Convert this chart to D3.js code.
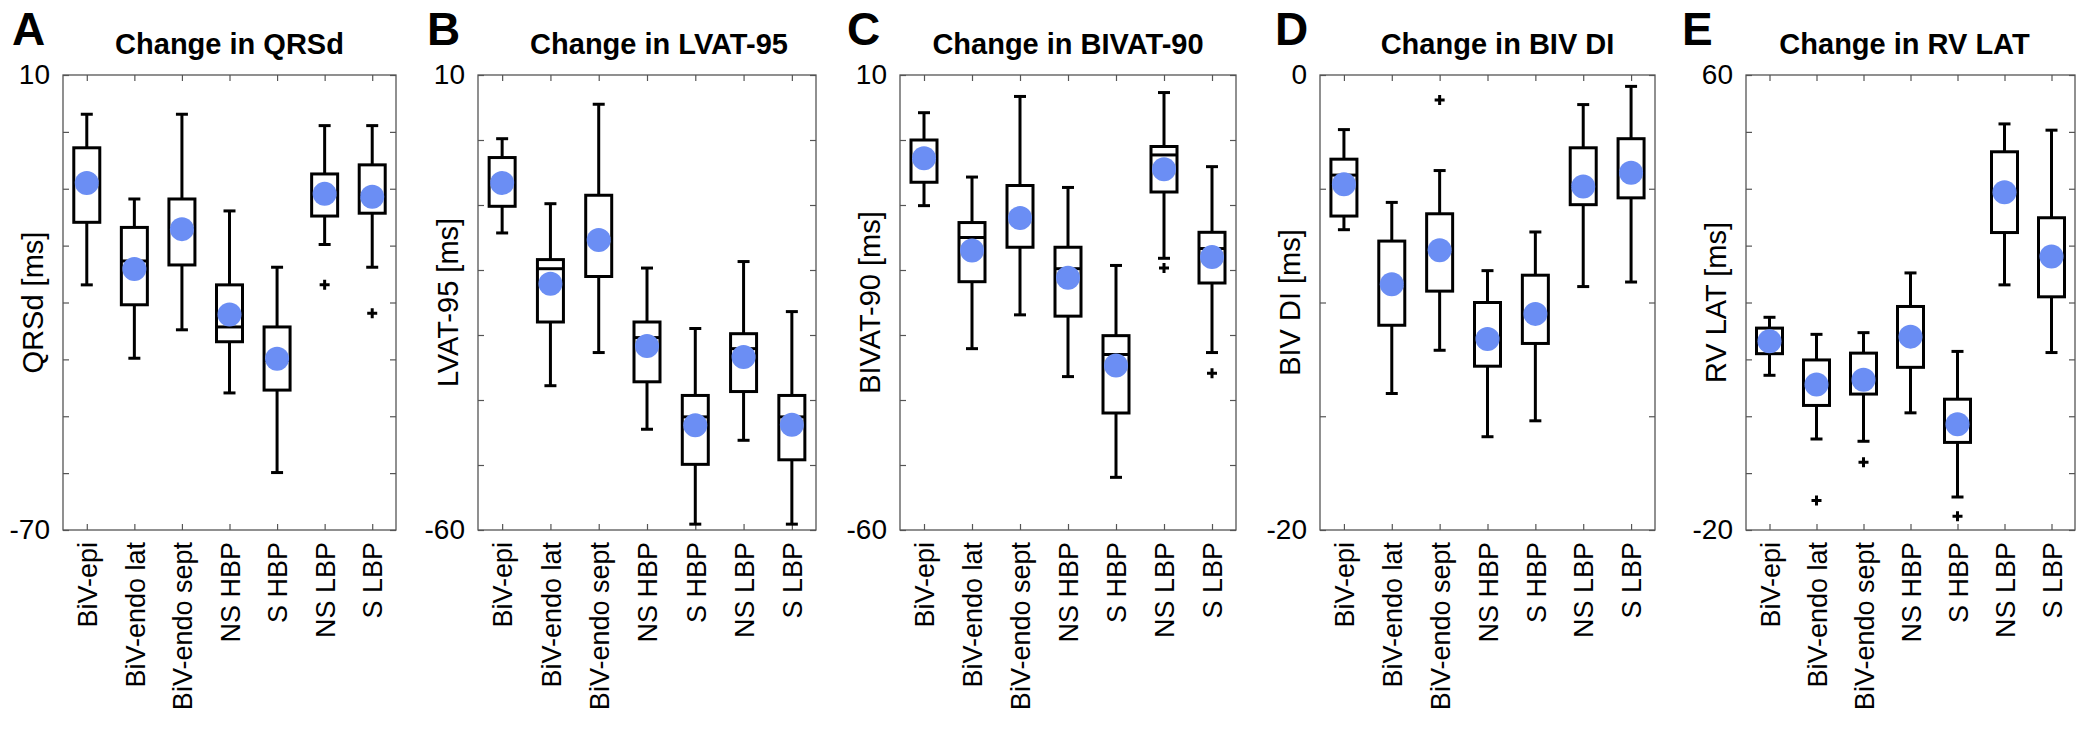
<!DOCTYPE html>
<html>
<head>
<meta charset="utf-8">
<script src="https://cdn.jsdelivr.net/npm/d3@7"></script>
<style>
    body { margin: 0; background: #fff; }
    svg { font-family: "Liberation Sans", Arial, Helvetica, sans-serif; }
</style>
</head>
<body>
<div id="chart"></div>
<script>
/*
five box plot panels, change in activation metrics per pacing site
 */

// categories (same for every panel)
var categories = ["BiV-epi", "BiV-endo lat", "BiV-endo sept", "NS HBP", "S HBP", "NS LBP", "S LBP"];

var panelLetters = ["A", "B", "C", "D", "E"];
var panelTitles = ["Change in QRSd", "Change in LVAT-95", "Change in BIVAT-90", "Change in BIV DI", "Change in RV LAT"];
var yLabels = ["QRSd [ms]", "LVAT-95 [ms]", "BIVAT-90 [ms]", "BIV DI [ms]", "RV LAT [ms]"];
var yMin = [-70, -60, -60, -20, -20];
var yMax = [10, 10, 10, 0, 60];
var yStep = [10, 10, 10, 5, 10];

// box plot statistics, one row per panel, one value per category
var whiskerHigh = [
    [3.1, -11.8, 3.1, -13.9, -23.8, 1.1, 1.1],
    [0.2, -9.8, 5.5, -19.7, -29.0, -18.7, -26.4],
    [4.2, -5.7, 6.7, -7.3, -19.3, 7.3, -4.1],
    [-2.4, -5.6, -4.2, -8.6, -6.9, -1.3, -0.5],
    [17.4, 14.4, 14.7, 25.2, 11.4, 51.4, 50.3]
];
var upperQuartile = [
    [-2.8, -16.8, -11.8, -26.9, -34.3, -7.4, -5.8],
    [-2.7, -18.4, -8.5, -28.0, -39.3, -29.8, -39.3],
    [0.0, -12.7, -7.0, -16.5, -30.1, -1.0, -14.2],
    [-3.7, -7.3, -6.1, -10.0, -8.8, -3.2, -2.8],
    [15.5, 9.9, 11.1, 19.3, 3.0, 46.5, 34.9]
];
var medians = [
    [-9.0, -22.7, -17.0, -34.3, -40.2, -10.8, -11.3],
    [-6.6, -19.8, -15.3, -30.4, -42.6, -32.1, -42.6],
    [-2.8, -15.0, -12.0, -19.8, -33.0, -2.3, -16.7],
    [-4.4, -9.2, -7.7, -11.6, -10.5, -4.9, -4.3],
    [13.2, 5.6, 6.4, 14.0, -1.4, 39.4, 28.1]
];
var means = [
    [-9.0, -24.1, -17.1, -32.1, -39.9, -10.9, -11.4],
    [-6.6, -22.1, -15.4, -31.7, -43.9, -33.4, -43.8],
    [-2.8, -17.0, -12.0, -21.2, -34.7, -4.5, -18.0],
    [-4.8, -9.2, -7.7, -11.6, -10.5, -4.9, -4.3],
    [13.2, 5.6, 6.4, 14.0, -1.4, 39.4, 28.1]
];
var lowerQuartile = [
    [-15.9, -30.4, -23.4, -36.9, -45.4, -14.8, -14.3],
    [-10.2, -28.0, -21.0, -37.2, -49.9, -38.7, -49.2],
    [-6.5, -21.8, -16.5, -27.1, -42.0, -8.0, -22.0],
    [-6.2, -11.0, -9.5, -12.8, -11.8, -5.7, -5.4],
    [11.0, 1.9, 3.9, 8.6, -4.6, 32.3, 21.0]
];
var whiskerLow = [
    [-26.9, -39.8, -34.8, -45.9, -59.9, -19.8, -23.8],
    [-14.3, -37.8, -32.7, -44.5, -59.1, -46.2, -59.1],
    [-10.1, -32.1, -26.9, -36.4, -51.9, -18.2, -32.7],
    [-6.8, -14.0, -12.1, -15.9, -15.2, -9.3, -9.1],
    [7.2, -4.0, -4.4, 0.6, -14.2, 23.1, 11.2]
];
// outliers per panel: [category index, value]
var outliers = [
    [[5, -26.9], [6, -31.9]],
    [],
    [[5, -19.7], [6, -35.9]],
    [[2, -1.1]],
    [[1, -14.8], [2, -8.1], [4, -17.6]]
];

// layout
var width = 2085;
var height = 730;
var frameLeft = [63, 478, 900, 1320, 1746];
var frameRight = [396, 816, 1236, 1655, 2075];
var frameTop = 75;
var frameBottom = 530;
var titleShift = [0, 12, 0, 10, -6];
var letterX = [12, 427, 847, 1275, 1682];
var boxWidth = 26;
var capWidth = 12;
var dotColor = "#6b8ef4";

var svg = d3.select("#chart")
    .append("svg")
    .attr("width", width)
    .attr("height", height);

// "+" marker used for outliers
var plusSymbol = {
    draw: function (ctx) {
        ctx.moveTo(-5, 0);
        ctx.lineTo(5, 0);
        ctx.moveTo(0, -5);
        ctx.lineTo(0, 5);
    }
};

function drawPanel(p) {
    var left = frameLeft[p];
    var right = frameRight[p];

    var x = d3.scalePoint()
        .domain(categories)
        .range([left, right])
        .padding(0.5);
    var y = d3.scaleLinear()
        .domain([yMin[p], yMax[p]])
        .range([frameBottom, frameTop]);

    var yTicks = d3.range(yMin[p], yMax[p] + yStep[p] / 2, yStep[p]);
    var g = svg.append("g");

    //axes with inward ticks, labels only at the ends
    var yAxis = d3.axisLeft(y)
        .tickValues(yTicks)
        .tickSizeInner(-6)
        .tickSizeOuter(0)
        .tickPadding(13)
        .tickFormat(function (d) {
            return (d === yMin[p] || d === yMax[p]) ? d : "";
        });
    var yAxisRight = d3.axisRight(y).tickValues(yTicks).tickSizeInner(-6).tickSizeOuter(0).tickFormat("");
    var xAxis = d3.axisBottom(x).tickSizeInner(-6).tickSizeOuter(0).tickPadding(12);
    var xAxisTop = d3.axisTop(x).tickSizeInner(-6).tickSizeOuter(0).tickFormat("");

    var ya = g.append("g").attr("transform", "translate(" + left + ",0)").call(yAxis);
    ya.selectAll("text").attr("font-size", "28px").attr("fill", "#000");
    g.append("g").attr("transform", "translate(" + right + ",0)").call(yAxisRight);

    var xa = g.append("g").attr("transform", "translate(0," + frameBottom + ")").call(xAxis);
    xa.selectAll("text")
        .attr("transform", "rotate(-90)")
        .attr("x", -12)
        .attr("y", 0)
        .attr("dy", "0.36em")
        .style("text-anchor", "end")
        .attr("font-size", "27px")
        .attr("fill", "#000");
    g.append("g").attr("transform", "translate(0," + frameTop + ")").call(xAxisTop);

    g.selectAll(".domain").remove();
    g.selectAll(".tick line").attr("stroke", "#555").attr("stroke-width", 1.2);

    //frame
    g.append("rect")
        .attr("x", left)
        .attr("y", frameTop)
        .attr("width", right - left)
        .attr("height", frameBottom - frameTop)
        .attr("fill", "none")
        .attr("stroke", "#555")
        .attr("stroke-width", 1.3);

    //boxes
    var boxes = g.selectAll(".box")
        .data(categories)
        .enter()
        .append("g")
        .attr("class", "box");

    boxes.append("line")
        .attr("x1", function (d) { return x(d); })
        .attr("x2", function (d) { return x(d); })
        .attr("y1", function (d, i) { return y(whiskerHigh[p][i]); })
        .attr("y2", function (d, i) { return y(upperQuartile[p][i]); });
    boxes.append("line")
        .attr("x1", function (d) { return x(d); })
        .attr("x2", function (d) { return x(d); })
        .attr("y1", function (d, i) { return y(lowerQuartile[p][i]); })
        .attr("y2", function (d, i) { return y(whiskerLow[p][i]); });
    boxes.append("line")
        .attr("x1", function (d) { return x(d) - capWidth / 2; })
        .attr("x2", function (d) { return x(d) + capWidth / 2; })
        .attr("y1", function (d, i) { return y(whiskerHigh[p][i]); })
        .attr("y2", function (d, i) { return y(whiskerHigh[p][i]); });
    boxes.append("line")
        .attr("x1", function (d) { return x(d) - capWidth / 2; })
        .attr("x2", function (d) { return x(d) + capWidth / 2; })
        .attr("y1", function (d, i) { return y(whiskerLow[p][i]); })
        .attr("y2", function (d, i) { return y(whiskerLow[p][i]); });
    boxes.append("rect")
        .attr("x", function (d) { return x(d) - boxWidth / 2; })
        .attr("width", boxWidth)
        .attr("y", function (d, i) { return y(upperQuartile[p][i]); })
        .attr("height", function (d, i) { return y(lowerQuartile[p][i]) - y(upperQuartile[p][i]); })
        .attr("fill", "none");
    boxes.append("line")
        .attr("x1", function (d) { return x(d) - boxWidth / 2; })
        .attr("x2", function (d) { return x(d) + boxWidth / 2; })
        .attr("y1", function (d, i) { return y(medians[p][i]); })
        .attr("y2", function (d, i) { return y(medians[p][i]); });
    boxes.selectAll("line, rect")
        .attr("stroke", "#000")
        .attr("stroke-width", 3);

    //mean dots
    boxes.append("circle")
        .attr("cx", function (d) { return x(d); })
        .attr("cy", function (d, i) { return y(means[p][i]); })
        .attr("r", 12)
        .attr("fill", dotColor);

    //outliers
    g.selectAll(".outlier")
        .data(outliers[p])
        .enter()
        .append("path")
        .attr("class", "outlier")
        .attr("d", d3.symbol().type(plusSymbol))
        .attr("transform", function (d) {
            return "translate(" + x(categories[d[0]]) + "," + y(d[1]) + ")";
        })
        .attr("stroke", "#000")
        .attr("stroke-width", 3)
        .attr("fill", "none");

    //texts
    svg.append("text")
        .attr("x", letterX[p])
        .attr("y", 45)
        .attr("font-size", "46px")
        .attr("font-weight", "bold")
        .text(panelLetters[p]);

    svg.append("text")
        .attr("x", (left + right) / 2 + titleShift[p])
        .attr("y", 54)
        .attr("text-anchor", "middle")
        .attr("font-size", "29px")
        .attr("font-weight", "bold")
        .text(panelTitles[p]);

    svg.append("text")
        .attr("transform", "translate(" + (left - 30) + "," + ((frameTop + frameBottom) / 2) + ") rotate(-90)")
        .attr("text-anchor", "middle")
        .attr("dy", "0.36em")
        .attr("font-size", "29px")
        .text(yLabels[p]);
}

for (var p = 0; p < panelTitles.length; p++) {
    drawPanel(p);
}
</script>
</body>
</html>
